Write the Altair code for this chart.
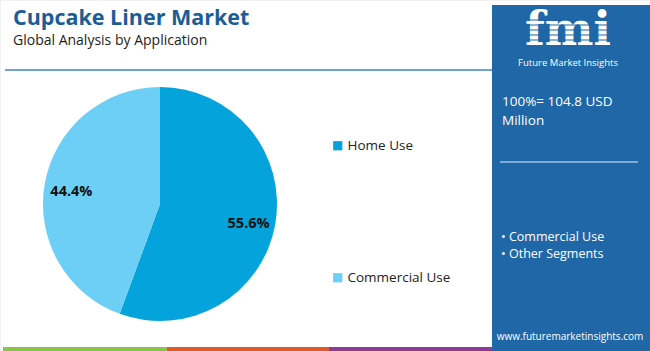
import altair as alt
import pandas as pd

# ---- data ----
categories = ["Home Use", "Commercial Use"]
shares = [55.6, 44.4]
labels = ["55.6%", "44.4%"]
slice_order = [0, 1]
colors = ["#05a3db", "#6dcff6"]

title_text = "Cupcake Liner Market"
subtitle_text = "Global Analysis by Application"
total_lines = ["100%= 104.8 USD", "Million"]
other_segments = ["• Commercial Use", "• Other Segments"]
site = "www.futuremarketinsights.com"

W, H = 650, 351
FONT = "Open Sans"
PANEL = "#1f67a6"

df = pd.DataFrame({"segment": categories, "share": shares, "label": labels, "ord": slice_order})
one = pd.DataFrame({"a": [0]})

def rect(x, x2, y, y2, color, **kw):
    return alt.Chart(one).mark_rect(color=color, **kw).encode(
        x=alt.value(x), x2=alt.value(x2), y=alt.value(y), y2=alt.value(y2))

def rule(x, x2, y, color, width):
    return alt.Chart(one).mark_rule(color=color, strokeWidth=width).encode(
        x=alt.value(x), x2=alt.value(x2), y=alt.value(y))

def text(s, x, y, size, color, weight="normal", align="left", font=FONT, baseline="alphabetic"):
    return alt.Chart(one).mark_text(text=s, fontSize=size, color=color, fontWeight=weight,
                                    align=align, baseline=baseline, font=font).encode(
        x=alt.value(x), y=alt.value(y))

CX, CY, R = 160, 204, 117

pie = alt.Chart(df).mark_arc(outerRadius=R).encode(
    theta=alt.Theta("share:Q", stack=True),
    order=alt.Order("ord:Q"),
    color=alt.Color("segment:N", scale=alt.Scale(domain=categories, range=colors),
                    legend=alt.Legend(title=None, orient="none", legendX=331, legendY=139,
                                      symbolType="square", symbolSize=85, symbolStrokeWidth=0,
                                      labelFontSize=13.5, labelFont=FONT, labelColor="#222222",
                                      rowPadding=117, labelOffset=3, padding=0)),
    x=alt.value(CX), y=alt.value(CY),
)

pct = alt.Chart(df).mark_text(radius=90, fontSize=14.5, fontWeight="bold", font=FONT,
                               color="#111111", dy=4).encode(
    theta=alt.Theta("share:Q", stack=True),
    order=alt.Order("ord:Q"),
    detail="segment:N",
    text="label:N",
    x=alt.value(CX), y=alt.value(CY),
)

layers = [
    rect(0, W, 0, H, "white", stroke="#e3e3e3", strokeWidth=1),
    text(title_text, 13, 25, 21.5, "#1a5e95", weight="bold"),
    text(subtitle_text, 13, 45, 14, "#222222"),
    rule(5, 492, 70, "#3b87c4", 1.5),
    pie,
    pct,
    # side panel
    rect(492, W, 5, H, PANEL),
    text("fmi", 568, 55, 46, "white", weight="bold", align="center", font="DejaVu Serif",
         baseline="bottom"),
]
for yy in [20, 25, 30, 35, 40]:
    layers.append(rule(514, 624, yy, PANEL, 1.2))
layers += [
    text("Future Market Insights", 568, 58, 9.5, "white", align="center", baseline="top"),
    text(total_lines[0], 502, 106, 13.5, "white"),
    text(total_lines[1], 502, 125, 13.5, "white"),
    rule(500, 638, 162, "#9fc3e6", 1.5),
    text(other_segments[0], 501, 241, 12.5, "white"),
    text(other_segments[1], 501, 258, 12.5, "white"),
    text(site, 570, 340, 10, "white", align="center"),
    # bottom stripes
    rect(3, 167, 347, H, "#8bc34a"),
    rect(167, 329, 347, H, "#e05a2b"),
    rect(329, 492, 347, H, "#8e3a96"),
]

chart = alt.layer(*layers).properties(
    width=W, height=H, padding=0, autosize=alt.AutoSizeParams(type="none"),
    background="white",
).configure_view(stroke=None)

chart.save("out.html", embed_options={"renderer": "svg", "actions": False})
